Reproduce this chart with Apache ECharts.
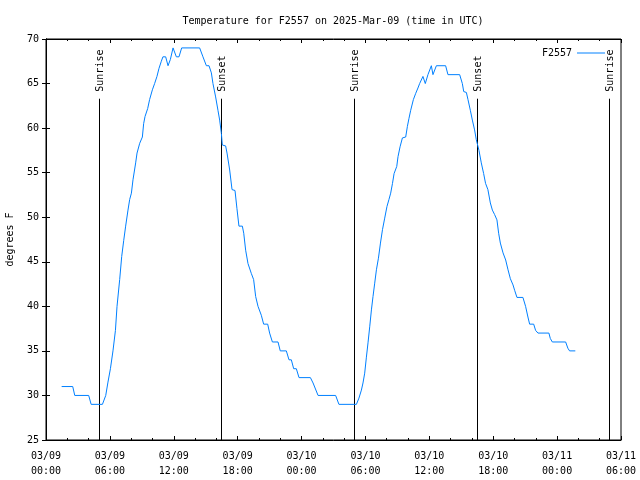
<!DOCTYPE html>
<html>
<head>
<meta charset="utf-8">
<script src="https://cdn.jsdelivr.net/npm/echarts@6/dist/echarts.min.js"></script>
<style>html,body{margin:0;padding:0;background:#fff;}#c{width:640px;height:480px;}</style>
</head>
<body>
<div id="c"></div>
<script>
// hours since 2025-03-09 00:00 UTC
var hours = [1.47,2.51,2.70,4.01,4.24,5.30,5.61,5.82,6.05,6.29,6.52,6.67,6.92,7.11,7.30,7.48,7.70,7.86,8.02,8.17,8.42,8.55,8.80,9.05,9.17,9.30,9.55,9.73,9.99,10.20,10.42,10.61,10.83,10.98,11.24,11.46,11.68,11.93,12.24,12.49,12.74,14.43,14.74,15.06,15.31,15.53,15.68,15.93,16.15,16.31,16.47,16.56,16.87,17.00,17.25,17.47,17.75,17.93,18.12,18.44,18.57,18.75,18.97,19.28,19.50,19.69,19.91,20.22,20.44,20.82,21.00,21.26,21.79,22.00,22.57,22.82,23.04,23.26,23.51,23.76,24.83,25.08,25.55,27.20,27.51,29.15,29.39,29.62,29.77,29.93,30.09,30.24,30.40,30.56,30.71,30.87,31.03,31.22,31.41,31.60,31.81,32.02,32.21,32.37,32.54,32.69,32.94,33.06,33.25,33.47,33.78,33.94,34.09,34.25,34.50,34.72,34.93,35.09,35.40,35.62,35.87,36.19,36.34,36.66,37.53,37.75,38.85,39.10,39.23,39.48,39.63,39.85,40.04,40.25,40.41,40.66,40.88,41.10,41.28,41.50,41.73,41.92,42.13,42.35,42.51,42.67,42.92,43.17,43.39,43.61,43.86,44.01,44.23,44.79,45.04,45.26,45.42,45.80,45.98,46.20,47.23,47.36,47.55,48.80,49.01,49.17,49.71];
var temps = [31,31,30,30,29,29,30,31.5,33,35,37.3,40,43,45.6,47.4,49,50.8,52,52.7,54.2,56.1,57.2,58.3,59,60.5,61.3,62.2,63.2,64.3,65,65.8,66.7,67.5,68,68,67,67.7,69,68,68,69,69,68,67,67,66.2,65,63.5,62,60.9,59.4,58.1,58,57.2,55.3,53.1,53,51,49,49,48.2,46.3,44.8,43.7,43,41.1,40,39,38,38,37,36,36,35,35,34,34,33,33,32,32,31.4,30,30,29,29,29.7,30.6,31.4,32.5,34.3,35.9,37.7,39.6,41.1,42.6,44.1,45.4,47.1,48.6,49.9,51.2,52,52.7,53.8,54.9,55.7,56.8,57.9,58.9,59,60.2,61.1,62,63.2,63.9,64.5,65,65.8,65,66,67,66,67,67,66,66,65,64.1,64,63.2,62,60.9,59.8,58.7,57.5,56.1,54.9,53.8,53.1,51.6,50.8,50.3,49.7,48.2,47.1,46,45.2,44.1,43.1,42.4,41.8,41,41,40,38.8,38,38,37.3,37,37,36.4,36,36,35.3,35,35];
var sunHours = [4.97,16.43,28.92,40.47,52.9];
var sunLabels = ['Sunrise','Sunset','Sunrise','Sunset','Sunrise'];
var xTickLabels = ['03/09\n00:00','03/09\n06:00','03/09\n12:00','03/09\n18:00','03/10\n00:00','03/10\n06:00','03/10\n12:00','03/10\n18:00','03/11\n00:00','03/11\n06:00'];
var seriesName = 'F2557';
var titleText = 'Temperature for F2557 on 2025-Mar-09 (time in UTC)';
var yName = 'degrees F';

var FONT = 'DejaVu Sans Mono';
var lineData = hours.map(function(h, i){ return [h, temps[i]]; });
var sunData = sunHours.map(function(h, i){ return [h, i]; });

var chart = echarts.init(document.getElementById('c'), null, {renderer:'canvas'});
var axisCommon = {
  axisLine:{show:true, lineStyle:{color:'#000', width:1}},
  axisTick:{show:true, inside:true, length:4, lineStyle:{color:'#000'}},
  splitLine:{show:false}
};
chart.setOption({
  animation:false,
  backgroundColor:'#fff',
  title:{text:titleText, left:328, textAlign:'center', top:11,
    textStyle:{fontFamily:FONT, fontSize:10, fontWeight:'normal', color:'#000'}},
  legend:{data:[seriesName], right:30, top:43, itemWidth:28, itemHeight:10, align:'right',
    textStyle:{fontFamily:FONT, fontSize:10, color:'#000'}, icon:'path://M0,5 L28,5 L28,6 L0,6 Z'},
  grid:{left:46, right:19, top:39, bottom:40, show:true, borderColor:'#000', borderWidth:1,
    containLabel:false, outerBoundsMode:'none'},
  xAxis:[
    Object.assign({type:'value', min:0, max:54, interval:6, position:'bottom',
      minorTick:{show:true, splitNumber:3, length:2, lineStyle:{color:'#000'}},
      axisLabel:{margin:9, fontFamily:FONT, fontSize:10, color:'#000', lineHeight:15,
        formatter:function(v){ return xTickLabels[Math.round(v/6)]; }}}, axisCommon),
    Object.assign({type:'value', min:0, max:54, interval:6, position:'top',
      minorTick:{show:true, splitNumber:3, length:2, lineStyle:{color:'#000'}},
      axisLabel:{show:false}}, axisCommon)
  ],
  yAxis:[
    Object.assign({type:'value', min:25, max:70, interval:5, position:'left',
      name:yName, nameLocation:'middle', nameGap:31, nameRotate:90,
      nameTextStyle:{fontFamily:FONT, fontSize:10, color:'#000'},
      axisLabel:{margin:7, fontFamily:FONT, fontSize:10, color:'#000'}}, axisCommon),
    Object.assign({type:'value', min:25, max:70, interval:5, position:'right',
      axisLabel:{show:false}}, axisCommon)
  ],
  series:[
    {type:'custom', name:'sun', xAxisIndex:0, yAxisIndex:0, data:sunData, z:1,
      encode:{x:0},
      renderItem:function(params, api){
        var h = api.value(0);
        var idx = api.value(1);
        var b = api.coord([h, 25]);
        var t = api.coord([h, 63.3]);
        var x = Math.round(b[0]) + 0.5;
        return {type:'group', children:[
          {type:'line', shape:{x1:x, y1:b[1], x2:x, y2:t[1]}, style:{stroke:'#000', lineWidth:1}},
          {type:'text', x:x + 1, y:t[1] - 7, rotation:Math.PI/2,
            style:{text:sunLabels[idx], fill:'#000', font:'10px "' + FONT + '"', align:'left', verticalAlign:'middle'}}
        ]};
      }},
    {type:'line', name:seriesName, data:lineData, xAxisIndex:0, yAxisIndex:0, z:3,
      symbol:'none', showSymbol:false, lineStyle:{color:'#0080ff', width:1}, itemStyle:{color:'#0080ff'}}
  ]
});
</script>
</body>
</html>
